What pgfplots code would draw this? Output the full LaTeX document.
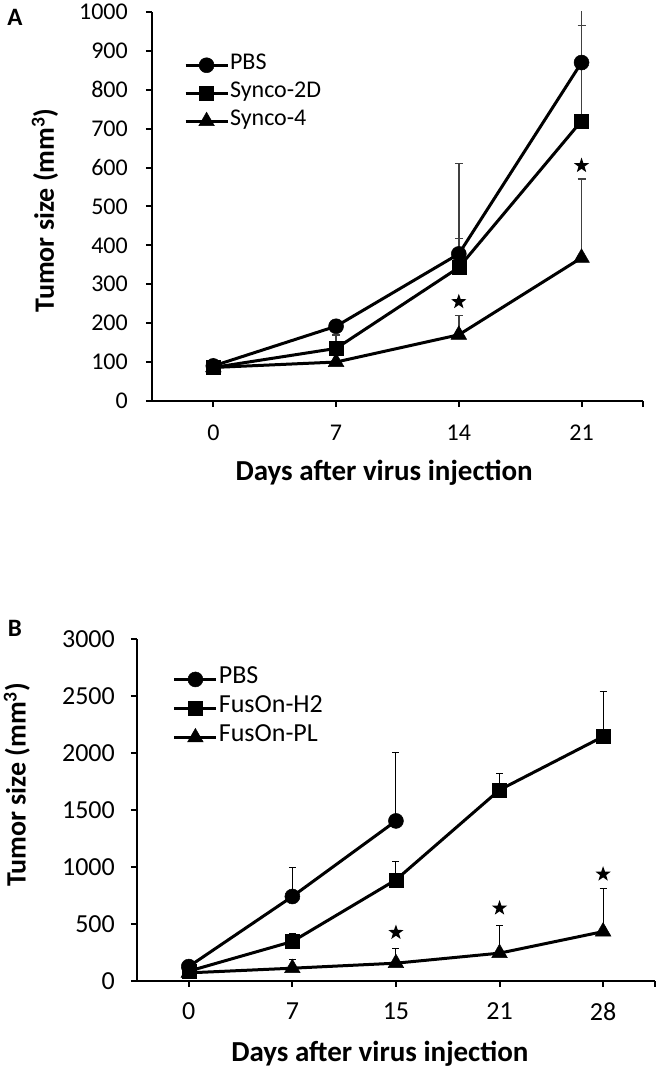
\documentclass[border=0pt]{standalone}
\usepackage{pgfplots}
\pgfplotsset{compat=1.18}
\usepackage{fontspec}
\setmainfont{Carlito}
\pgfdeclareplotmark{fstar}{%
  \pgfpathmoveto{\pgfpointpolar{90}{\pgfplotmarksize}}%
  \pgfpathlineto{\pgfpointpolar{126}{0.4\pgfplotmarksize}}%
  \pgfpathlineto{\pgfpointpolar{162}{\pgfplotmarksize}}%
  \pgfpathlineto{\pgfpointpolar{198}{0.4\pgfplotmarksize}}%
  \pgfpathlineto{\pgfpointpolar{234}{\pgfplotmarksize}}%
  \pgfpathlineto{\pgfpointpolar{270}{0.4\pgfplotmarksize}}%
  \pgfpathlineto{\pgfpointpolar{306}{\pgfplotmarksize}}%
  \pgfpathlineto{\pgfpointpolar{342}{0.4\pgfplotmarksize}}%
  \pgfpathlineto{\pgfpointpolar{18}{\pgfplotmarksize}}%
  \pgfpathlineto{\pgfpointpolar{54}{0.4\pgfplotmarksize}}%
  \pgfpathclose\pgfusepathqfill}
\pgfplotsset{
  panel/.style={
    scale only axis,
    axis x line*=bottom, axis y line*=left,
    axis line style={line width=2.5pt, -},
    tick align=outside, tick style={line width=2pt, black},
    major tick length=6pt,
    /pgf/number format/assume math mode=true,
    /pgf/number format/1000 sep={},
    xtick={0,1,2,3,4}, extra x tick labels={},
    legend cell align=left,
    legend style={draw=none, fill=none, inner sep=0pt, anchor=north west,
      nodes={inner sep=1pt, text height=16pt, text depth=8pt}},
    legend image code/.code={\draw[mark repeat=2, mark phase=2, ##1] plot coordinates {(0pt,0pt)(21pt,0pt)(42pt,0pt)};},
  },
  ser/.style={line width=3pt, black, solid, mark options={solid, fill=black, draw=black, line width=0.5pt}},
  ebA/.style={error bars/.cd, y dir=plus, y explicit, error bar style={line width=1.4pt, black!75}, error mark options={rotate=90, mark size=4pt, line width=1.4pt, black!75}},
  ebB/.style={error bars/.cd, y dir=plus, y explicit, error bar style={line width=1pt, black}, error mark options={rotate=90, mark size=3.5pt, line width=1pt, black}},
}
\begin{document}
\begin{tikzpicture}[x=1pt,y=1pt]
\path (0,0) rectangle (660,1070);
\node[anchor=center, font=\fontsize{25}{27}\selectfont\bfseries] at (15,1053) {A};
\node[anchor=center, font=\fontsize{25}{27}\selectfont\bfseries] at (15,442) {B};
% Panel A
\begin{axis}[panel, at={(152pt,669pt)}, anchor=south west, width=491pt, height=389pt,
  font=\fontsize{24}{28}\selectfont,
  xmin=-0.5, xmax=3.5, ymin=0, ymax=1000, ytick={0,100,...,1000},
  xticklabels={0,7,14,21}, extra x ticks={3.5},
  yticklabel style={inner sep=0pt, xshift=-18pt},
  xticklabel style={inner sep=0pt, yshift=-18pt},
  xlabel={\bfseries Days after virus injection},
  ylabel={\bfseries Tumor size (mm\textsuperscript{3})},
  xlabel style={at={(axis description cs:0.473,-0.185)}, anchor=center, font=\fontsize{29}{31}\selectfont},
  ylabel style={at={(axis description cs:-0.218,0.49)}, anchor=center, font=\fontsize{28}{30}\selectfont},
  legend style={at={(axis description cs:0.065,0.897)}, row sep=2pt},
]
\addplot[ser, mark=*, mark size=7.5pt, ebA] coordinates {(0,90) +- (0,0) (1,192) +- (0,0) (2,378) +- (0,232) (3,870) +- (0,150)};
\addlegendentry{PBS}
\addplot[ser, mark=square*, mark size=7pt, ebA] coordinates {(0,86) +- (0,0) (1,135) +- (0,35) (2,343) +- (0,75) (3,720) +- (0,246)};
\addlegendentry{Synco-2D}
\addplot[ser, mark=triangle*, mark size=9pt, ebA] coordinates {(0,86) +- (0,0) (1,100) +- (0,0) (2,170) +- (0,49) (3,368) +- (0,203)};
\addlegendentry{Synco-4}
\addplot[only marks, black, mark=fstar, mark size=8pt, forget plot] coordinates {(2,255) (3,605)};
\end{axis}
% Panel B
\begin{axis}[panel, at={(137pt,89pt)}, anchor=south west, width=518pt, height=342pt,
  font=\fontsize{26}{30}\selectfont,
  xmin=-0.5, xmax=4.5, ymin=0, ymax=3000, ytick={0,500,...,3000},
  xticklabels={0,7,15,21,28}, extra x ticks={4.5},
  yticklabel style={inner sep=0pt, xshift=-16pt},
  xticklabel style={inner sep=0pt, yshift=-16pt},
  xlabel={\bfseries Days after virus injection},
  ylabel={\bfseries Tumor size (mm\textsuperscript{3})},
  xlabel style={at={(axis description cs:0.469,-0.214)}, anchor=center, font=\fontsize{29}{31}\selectfont},
  ylabel style={at={(axis description cs:-0.232,0.573)}, anchor=center, font=\fontsize{28}{30}\selectfont},
  legend style={at={(axis description cs:0.069,0.92)}, row sep=3pt},
]
\addplot[ser, mark=*, mark size=7.5pt, ebB] coordinates {(0,125) +- (0,0) (1,740) +- (0,257) (2,1403) +- (0,600)};
\addlegendentry{PBS}
\addplot[ser, mark=square*, mark size=7pt, ebB] coordinates {(0,85) +- (0,0) (1,345) +- (0,70) (2,886) +- (0,160) (3,1675) +- (0,147) (4,2143) +- (0,395)};
\addlegendentry{FusOn-H2}
\addplot[ser, mark=triangle*, mark size=9pt, ebB] coordinates {(0,70) +- (0,0) (1,111) +- (0,79) (2,155) +- (0,132) (3,243) +- (0,242) (4,432) +- (0,381)};
\addlegendentry{FusOn-PL}
\addplot[only marks, black, mark=fstar, mark size=8pt, forget plot] coordinates {(2,424) (3,638) (4,936)};
\end{axis}
\end{tikzpicture}
\end{document}
